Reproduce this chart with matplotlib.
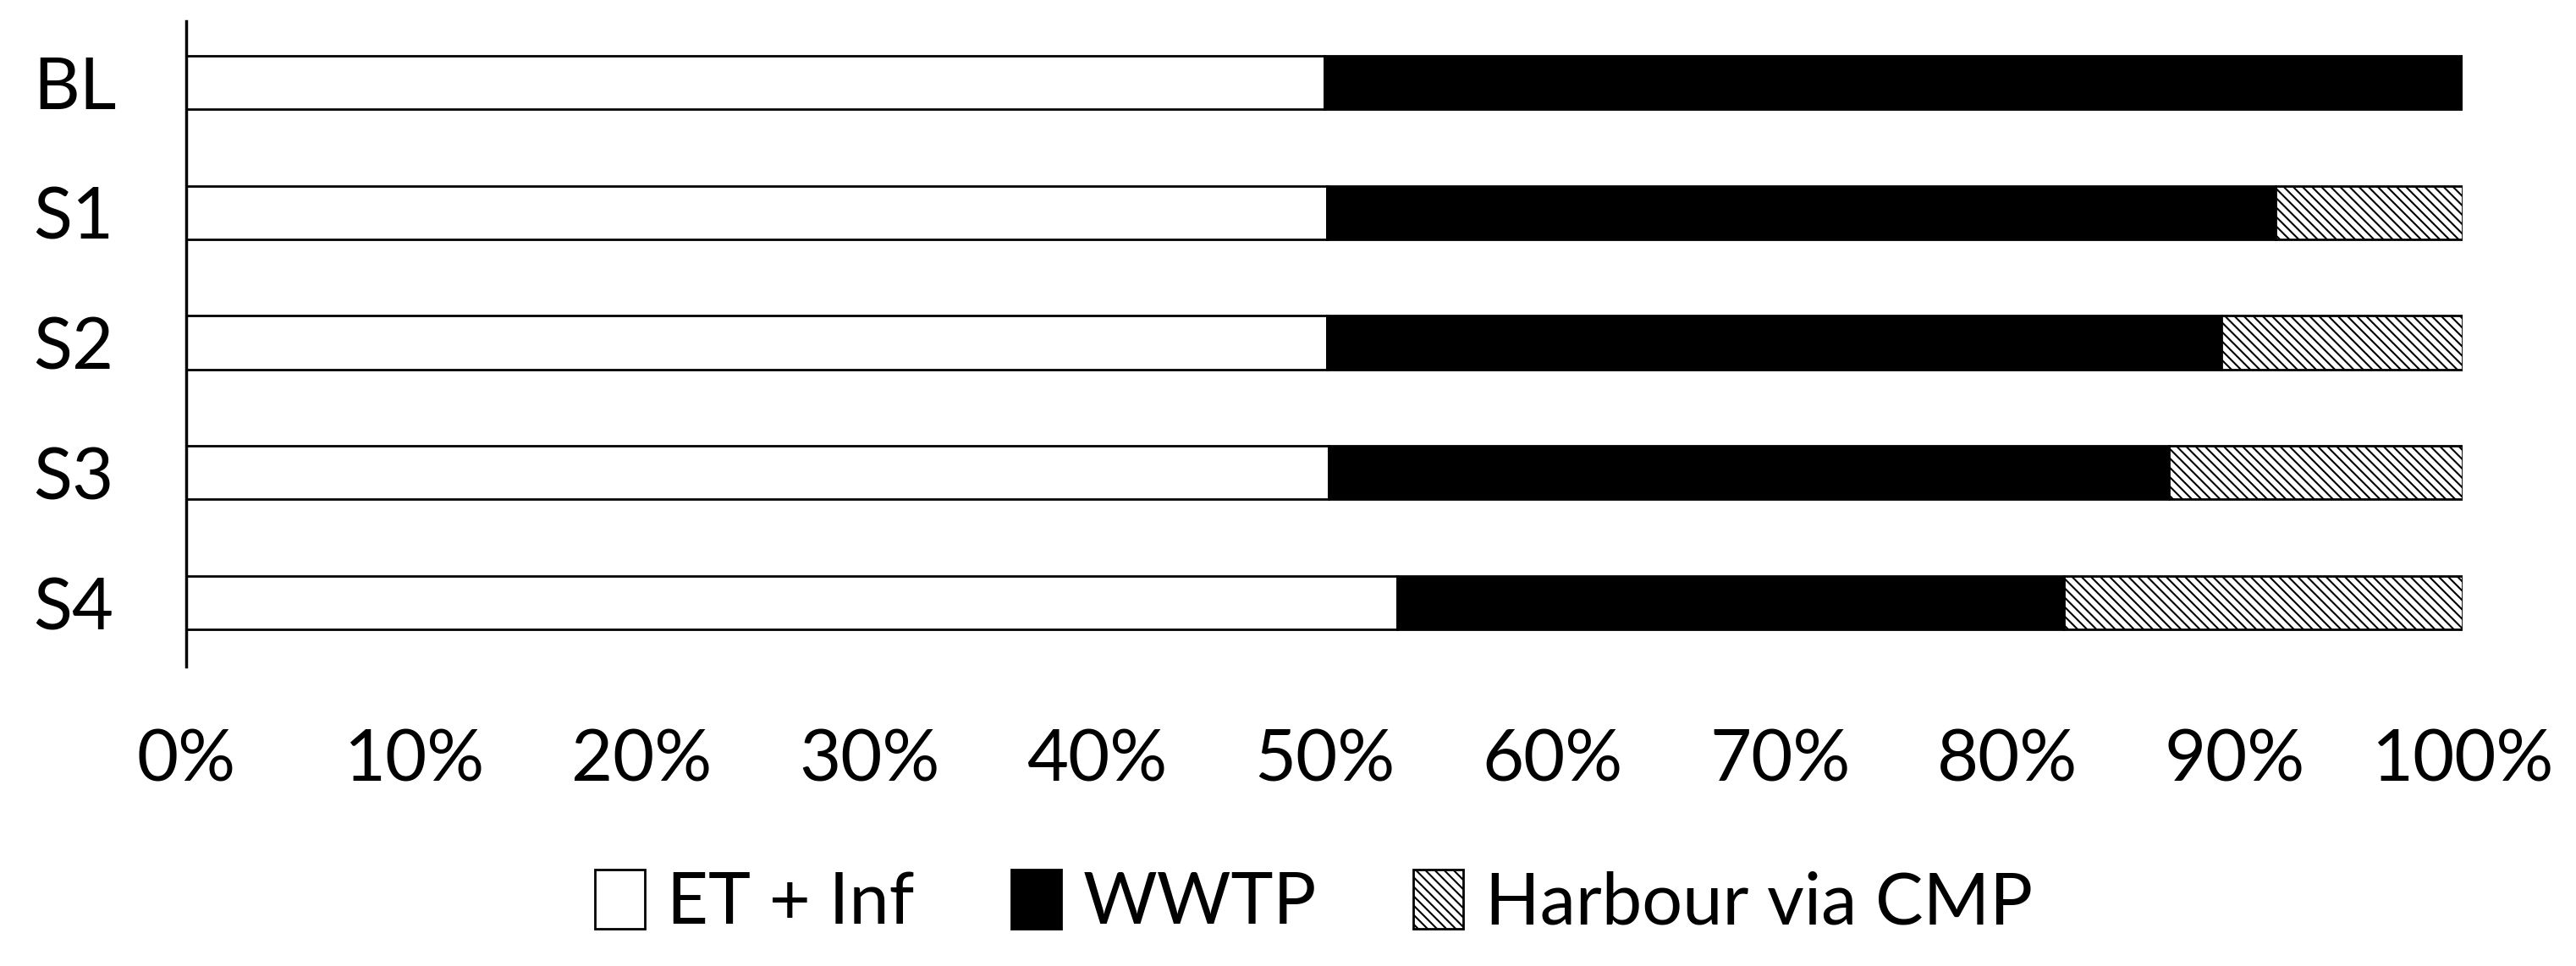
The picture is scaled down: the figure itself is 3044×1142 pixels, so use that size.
import matplotlib.pyplot as plt
import numpy as np
from matplotlib.ticker import PercentFormatter

plt.rcParams['font.family'] = ['Lato', 'DejaVu Sans']
plt.rcParams['hatch.linewidth'] = 1.5

scenarios = ["BL", "S1", "S2", "S3", "S4"]
et_inf = [0.50, 0.501, 0.501, 0.502, 0.532]
wwtp = [0.50, 0.417, 0.393, 0.369, 0.293]
harbour = [0.0, 0.082, 0.106, 0.129, 0.175]

fig = plt.figure(figsize=(30.44, 11.42), dpi=100)
ax = fig.add_axes([0.0723, 0.31, 0.8837, 0.668])

y = np.arange(len(scenarios))
left = np.zeros(len(scenarios))
h = 0.41

ax.barh(y, et_inf, left=left, height=h, color="white", edgecolor="black",
        linewidth=2, label="ET + Inf")
left += et_inf
ax.barh(y, wwtp, left=left, height=h, color="black", edgecolor="black",
        linewidth=2, label="WWTP")
left += wwtp
ax.barh(y, harbour, left=left, height=h, color="white", edgecolor="black",
        linewidth=2, hatch="\\\\\\", label="Harbour via CMP")

ax.set_xlim(0, 1)
ax.set_ylim(4.49, -0.47)
ax.set_yticks(y)
ax.set_yticklabels(scenarios)
ax.set_xticks(np.linspace(0, 1, 11))
ax.xaxis.set_major_formatter(PercentFormatter(1.0, decimals=0))
ax.tick_params(axis="both", length=0, labelsize=61)
ax.tick_params(axis="x", pad=52)
ax.tick_params(axis="y", pad=130)
for lbl in ax.get_yticklabels():
    lbl.set_horizontalalignment("left")
for s in ["top", "right", "bottom"]:
    ax.spines[s].set_visible(False)
ax.spines["left"].set_linewidth(2.5)

fig.legend(loc="center", bbox_to_anchor=(0.51, 0.065), ncol=3, frameon=False,
           fontsize=61, handlelength=0.7, handleheight=0.9, handletextpad=0.3,
           columnspacing=1.35)

fig.savefig("out.png", dpi=100)
